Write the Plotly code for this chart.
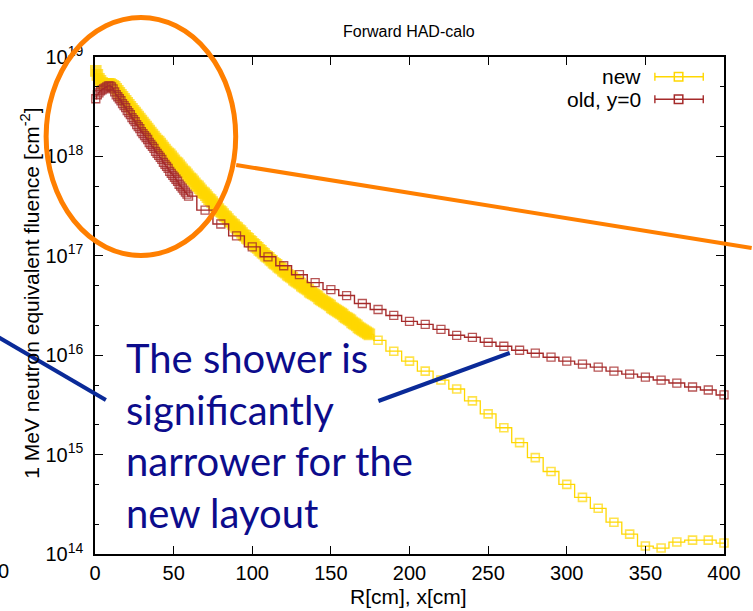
import numpy as np
import plotly.graph_objects as go

# ---- page / plot-area geometry (pixels) ----
W, H = 753, 611
ML, MR, MT, MB = 95, 21, 57, 57
PW, PH = W - ML - MR, H - MT - MB


def px(x):
    return (x - ML) / PW


def py(y):
    return (H - MB - y) / PH


# ---- data: 1 MeV neq fluence vs R (values stored as log10) ----
# new layout: fine 1 cm bins up to 175 cm, then 10 cm bins
new_fine_r = [r + 0.5 for r in range(0, 175)]
new_fine_log10 = [
    18.86, 18.82, 18.78, 18.76, 18.74, 18.73, 18.73, 18.73, 18.73, 18.73,
    18.72, 18.71, 18.70, 18.68, 18.66, 18.64, 18.62, 18.60, 18.58, 18.56,
    18.54, 18.52, 18.50, 18.48, 18.46, 18.44, 18.42, 18.40, 18.38, 18.36,
    18.34, 18.32, 18.30, 18.28, 18.26, 18.24, 18.22, 18.20, 18.18, 18.16,
    18.15, 18.13, 18.11, 18.09, 18.07, 18.05, 18.03, 18.02, 18.00, 17.98,
    17.96, 17.94, 17.93, 17.91, 17.89, 17.87, 17.85, 17.84, 17.82, 17.80,
    17.78, 17.77, 17.75, 17.73, 17.71, 17.70, 17.68, 17.66, 17.64, 17.63,
    17.61, 17.59, 17.57, 17.56, 17.54, 17.52, 17.50, 17.49, 17.47, 17.45,
    17.44, 17.42, 17.40, 17.39, 17.37, 17.35, 17.34, 17.32, 17.31, 17.29,
    17.28, 17.26, 17.25, 17.23, 17.21, 17.20, 17.18, 17.17, 17.15, 17.14,
    17.12, 17.11, 17.09, 17.08, 17.06, 17.05, 17.03, 17.02, 17.00, 16.99,
    16.98, 16.96, 16.95, 16.93, 16.92, 16.91, 16.89, 16.88, 16.87, 16.85,
    16.84, 16.83, 16.81, 16.80, 16.79, 16.78, 16.76, 16.75, 16.74, 16.73,
    16.72, 16.70, 16.69, 16.68, 16.67, 16.66, 16.64, 16.63, 16.62, 16.61,
    16.60, 16.59, 16.57, 16.56, 16.55, 16.54, 16.53, 16.52, 16.51, 16.50,
    16.48, 16.47, 16.46, 16.45, 16.44, 16.43, 16.42, 16.41, 16.39, 16.38,
    16.37, 16.36, 16.35, 16.33, 16.32, 16.31, 16.30, 16.28, 16.27, 16.26,
    16.25, 16.24, 16.23, 16.22, 16.21,
]
new_coarse_r = list(range(180, 401, 10))
new_coarse_log10 = [
    16.15, 16.04, 15.94, 15.84, 15.75, 15.66, 15.54, 15.41, 15.27, 15.12,
    14.97, 14.83, 14.70, 14.57, 14.46, 14.32, 14.20, 14.08, 14.06, 14.12,
    14.14, 14.14, 14.11,
]

# old layout, y=0: fine 1 cm bins up to 60 cm, then 10 cm bins
old_fine_r = [r + 0.5 for r in range(0, 60)]
old_fine_log10 = [
    18.58, 18.62, 18.64, 18.66, 18.67, 18.68, 18.69, 18.70, 18.71, 18.71,
    18.70, 18.68, 18.65, 18.62, 18.60, 18.58, 18.56, 18.53, 18.51, 18.49,
    18.46, 18.44, 18.42, 18.39, 18.37, 18.35, 18.32, 18.30, 18.28, 18.25,
    18.23, 18.21, 18.19, 18.17, 18.14, 18.12, 18.10, 18.08, 18.05, 18.03,
    18.01, 17.99, 17.97, 17.94, 17.92, 17.90, 17.88, 17.85, 17.83, 17.81,
    17.79, 17.77, 17.75, 17.72, 17.70, 17.68, 17.66, 17.64, 17.62, 17.60,
]
old_coarse_r = list(range(70, 401, 10))
old_coarse_log10 = [
    17.46, 17.32, 17.20, 17.09, 16.99, 16.90, 16.81, 16.73, 16.66, 16.60,
    16.52, 16.46, 16.40, 16.34, 16.31, 16.26, 16.20, 16.18, 16.13, 16.09,
    16.05, 16.02, 15.98, 15.94, 15.91, 15.88, 15.84, 15.81, 15.78, 15.75,
    15.72, 15.68, 15.65, 15.60,
]

x_ticks = [0, 50, 100, 150, 200, 250, 300, 350, 400]
y_tick_exponents = [14, 15, 16, 17, 18, 19]

YELLOW = "#FFD700"
BROWN = "#A52A2A"
ORANGE = "#FF7F00"
NAVY_LINE = "#0A2A98"
NAVY_TEXT = "#0C0C8C"
AX_FONT = "Liberation Sans, Arial, Helvetica, sans-serif"

fig = go.Figure()

# new layout: solid squares in the fine region, open squares for 10 cm bins
n_fine, n_coarse = len(new_fine_r), len(new_coarse_r)
fig.add_trace(go.Scatter(
    x=new_fine_r + new_coarse_r,
    y=10 ** np.array(new_fine_log10 + new_coarse_log10),
    mode="lines+markers",
    line=dict(color=YELLOW, width=1.3, shape="hvh"),
    marker=dict(
        symbol=["square"] * n_fine + ["square-open"] * n_coarse,
        size=[10] * n_fine + [8] * n_coarse,
        color=YELLOW,
        line=dict(color=YELLOW, width=1.6),
    ),
    cliponaxis=False,
    name="new",
    showlegend=False,
))

fig.add_trace(go.Scatter(
    x=old_fine_r + old_coarse_r,
    y=10 ** np.array(old_fine_log10 + old_coarse_log10),
    mode="lines+markers",
    line=dict(color=BROWN, width=1.4, shape="hvh"),
    marker=dict(symbol="square-open", size=8, color=BROWN,
                line=dict(color=BROWN, width=1.3), opacity=0.8),
    cliponaxis=False,
    name="old, y=0",
    showlegend=False,
))

axis_common = dict(
    showline=True, linecolor="black", linewidth=1.5, mirror="allticks",
    ticks="inside", tickcolor="black", tickwidth=1.2, ticklen=8,
    showgrid=False, zeroline=False,
    tickfont=dict(family=AX_FONT, size=20, color="black"),
)

fig.update_xaxes(range=[0, 400], tickvals=x_ticks, **axis_common)
fig.update_yaxes(
    type="log", range=[14, 19],
    tickvals=[10.0 ** e for e in y_tick_exponents],
    ticktext=["10<sup><span style='font-size:14px'>%d</span></sup>" % e
              for e in y_tick_exponents],
    ticklabelstandoff=6,
    minor=dict(ticks="inside", ticklen=4, tickwidth=1.1, tickcolor="black",
               dtick="D2", showgrid=False),
    **axis_common,
)

shapes = []
annotations = []

# custom legend: text to the left of the sample, sample with end caps
for label, color, yc in [("new", YELLOW, 76.7), ("old, y=0", BROWN, 99.3)]:
    annotations.append(dict(
        xref="paper", yref="paper", x=px(650), y=py(yc),
        xanchor="right", yanchor="middle", showarrow=False,
        text=label, font=dict(family=AX_FONT, size=21, color="black"),
    ))
    shapes.append(dict(type="line", xref="paper", yref="paper",
                       x0=px(662), x1=px(711), y0=py(yc), y1=py(yc),
                       line=dict(color=color, width=1.4)))
    for xc in (662, 711):
        shapes.append(dict(type="line", xref="paper", yref="paper",
                           x0=px(xc), x1=px(xc), y0=py(yc - 4), y1=py(yc + 4),
                           line=dict(color=color, width=1.4)))
    shapes.append(dict(type="rect", xref="paper", yref="paper",
                       x0=px(686 - 4.3), x1=px(686 + 4.3),
                       y0=py(yc + 4.3), y1=py(yc - 4.3),
                       line=dict(color=color, width=1.5),
                       fillcolor="rgba(0,0,0,0)"))

# title and axis titles
annotations.append(dict(
    xref="paper", yref="paper", x=px(413), y=py(31),
    xanchor="center", yanchor="middle", showarrow=False,
    text="Forward HAD-calo", font=dict(family=AX_FONT, size=16, color="black"),
))
annotations.append(dict(
    xref="paper", yref="paper", x=px(412), y=py(596),
    xanchor="center", yanchor="middle", showarrow=False,
    text="R[cm], x[cm]", font=dict(family=AX_FONT, size=21, color="black"),
))
annotations.append(dict(
    xref="paper", yref="paper", x=px(29), y=py(293),
    xanchor="center", yanchor="middle", showarrow=False, textangle=-90,
    text="1 MeV neutron equivalent fluence [cm<sup>-2</sup>]",
    font=dict(family=AX_FONT, size=21, color="black"),
))
# neighbouring tick label cut by the page edge
annotations.append(dict(
    xref="paper", yref="paper", x=px(2), y=py(571),
    xanchor="center", yanchor="middle", showarrow=False,
    text="0", font=dict(family=AX_FONT, size=20, color="black"),
))

# highlight ellipse and callout lines
shapes.append(dict(type="circle", xref="paper", yref="paper",
                   x0=px(45.5), x1=px(237.5), y0=py(255.5), y1=py(17.5),
                   line=dict(color=ORANGE, width=5)))
shapes.append(dict(type="line", xref="paper", yref="paper",
                   x0=px(238), y0=py(165), x1=px(760), y1=py(248),
                   line=dict(color=ORANGE, width=4)))
shapes.append(dict(type="line", xref="paper", yref="paper",
                   x0=px(-5), y0=py(336), x1=px(106), y1=py(400),
                   line=dict(color=NAVY_LINE, width=4)))
shapes.append(dict(type="line", xref="paper", yref="paper",
                   x0=px(382), y0=py(401), x1=px(515), y1=py(353),
                   line=dict(color=NAVY_LINE, width=4)))

# callout text
callout = ["The shower is", "significantly", "narrower for the", "new layout"]
for i, line_txt in enumerate(callout):
    annotations.append(dict(
        xref="paper", yref="paper", x=px(124), y=py(358 + 51.5 * i),
        xanchor="left", yanchor="middle", showarrow=False,
        text=line_txt, font=dict(family="Lato, Open Sans, sans-serif",
                                 size=40, color=NAVY_TEXT),
    ))

fig.update_layout(
    width=W, height=H, autosize=False,
    margin=dict(l=ML, r=MR, t=MT, b=MB, pad=0),
    paper_bgcolor="white", plot_bgcolor="white",
    showlegend=False,
    shapes=shapes, annotations=annotations,
)

fig.write_html("out.html")
